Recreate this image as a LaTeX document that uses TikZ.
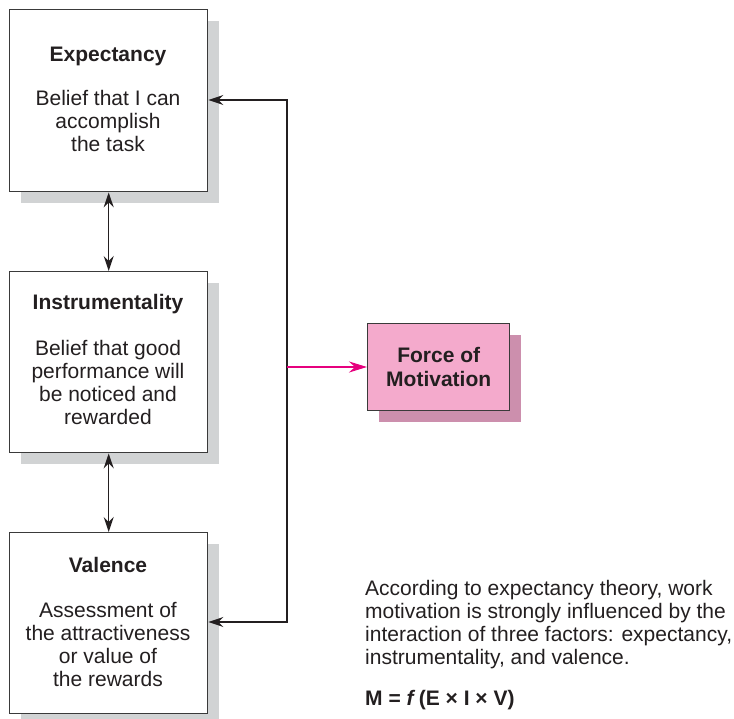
\documentclass[tikz,border=0pt]{standalone}
\usepackage{fontspec}
\setmainfont{Liberation Sans}
\usetikzlibrary{arrows.meta,shadows}
\definecolor{ink}{HTML}{231F20}
\definecolor{edge}{HTML}{3A3A3A}
\definecolor{shade}{HTML}{D1D3D4}
\definecolor{pinkfill}{HTML}{F4AACC}
\definecolor{pinkshade}{HTML}{CC8FAD}
\definecolor{forcearrow}{HTML}{E6007E}
\begin{document}
\begin{tikzpicture}[x=1pt,y=-1pt,
  every node/.style={text=ink},
  factor/.style={draw=edge, line width=1.4pt, fill=white, inner sep=0pt,
    anchor=north west, minimum width=198pt,
    drop shadow={shadow xshift=11pt, shadow yshift=-11pt, fill=shade, opacity=1}},
  forcebox/.style={draw=edge, line width=1.4pt, fill=pinkfill, inner sep=0pt,
    anchor=north west, minimum width=142pt, minimum height=87pt,
    drop shadow={shadow xshift=11pt, shadow yshift=-11pt, fill=pinkshade, opacity=1}},
  title/.style={anchor=base, font=\fontsize{21}{23}\selectfont\bfseries, inner sep=0pt},
  body/.style={anchor=base, align=center, font=\fontsize{21}{23}\selectfont, inner sep=0pt},
  tip/.style={Stealth[length=15pt,width=10pt,inset=5pt]},
  link/.style={draw=ink, line width=1.4pt, {Stealth[length=15pt,width=10pt,inset=5pt]}-{Stealth[length=15pt,width=10pt,inset=5pt]}},
  push/.style={draw=forcearrow, line width=2.2pt, -{Stealth[length=18pt,width=11pt,inset=6pt]}}
]
\useasboundingbox (0,0) rectangle (734,719);

% the three factor boxes
\node[factor, minimum height=182pt] (e) at (9,9) {};
\node[factor, minimum height=181pt] (i) at (9,271) {};
\node[factor, minimum height=181pt] (v) at (9,532) {};

% force of motivation
\node[forcebox] (f) at (367,323) {};
\node[anchor=center, align=center, inner sep=0pt,
      font=\fontsize{21}{24}\selectfont\bfseries] (ft) at (f.center) {Force of\\Motivation};

% texts in the factor boxes
\node[title] (et) at (108,62) {Expectancy};
\node[body] (eb1) at (108,106) {Belief that I can};
\node[body] (eb2) at (108,129) {accomplish};
\node[body] (eb3) at (108,152) {the task};

\node[title] (it) at (108,310) {Instrumentality};
\node[body] (ib1) at (108,355.5) {Belief that good};
\node[body] (ib2) at (108,378.5) {performance will};
\node[body] (ib3) at (108,401.5) {be noticed and};
\node[body] (ib4) at (108,424.5) {rewarded};

\node[title] (vt) at (108,572) {Valence};
\node[body] (vb1) at (108,617) {Assessment of};
\node[body] (vb2) at (108,640) {the attractiveness};
\node[body] (vb3) at (108,663) {or value of};
\node[body] (vb4) at (108,686) {the rewards};

% links between the factors
\draw[link] (e.south) -- (i.north);
\draw[link] (i.south) -- (v.north);

% feedback line on the right
\coordinate (fbtop) at (287,100);
\coordinate (fbmid) at (287,367);
\coordinate (fbbot) at (287,622);
\draw[link] (e.east |- fbtop) -- (fbtop) -- (fbbot) -- (v.east |- fbbot);
\draw[push] (fbmid) -- (f.west |- fbmid);

% explanation (base anchor sits on the last line)
\node[anchor=base west, align=left, inner sep=0pt,
      font=\fontsize{21}{22.7}\selectfont] (note) at (365,664)
  {According to expectancy theory, work\\
   motivation is strongly influenced by the\\
   interaction of three factors: expectancy,\\
   instrumentality, and valence.};
\node[anchor=base west, inner sep=0pt, font=\fontsize{21}{23}\selectfont\bfseries]
  (formula) at (365,705) {M = \textit{f}\,(E × I × V)};
\end{tikzpicture}
\end{document}
